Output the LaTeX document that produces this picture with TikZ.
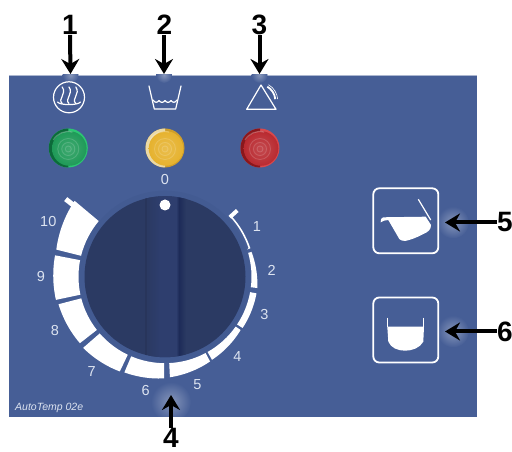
\documentclass[tikz,border=0pt]{standalone}
\usepackage{fontspec}
\setmainfont{Liberation Sans}
\usepackage{xcolor}
\usetikzlibrary{arrows.meta,positioning,calc}
\definecolor{cPanel}{HTML}{465E96}
\definecolor{cRing}{HTML}{435B92}
\definecolor{cKnob}{HTML}{2B3A63}
\definecolor{cStripe}{HTML}{2E3E6E}
\definecolor{cShadow}{HTML}{1D2B58}
\definecolor{cScale}{HTML}{DCE3F0}
\tikzset{
  num/.style={font=\fontsize{28}{28}\selectfont\bfseries,inner sep=0pt,text=black},
  callout/.style={-{Stealth[length=15pt,width=18pt,inset=5pt]},line width=4pt,color=black},
  glow/.style={inner color=white!35!cPanel,outer color=cPanel,draw=none},
  tick/.style={font=\fontsize{14.5}{15}\selectfont,text=cScale,inner sep=0pt},
  icon/.style={draw=white,line width=1.2pt,line join=round,line cap=round},
  btn/.style={draw=white,line width=1.8pt,rounded corners=6pt,fill=cPanel},
  seg/.style={fill=white,draw=none},
}
\begin{document}
\begin{tikzpicture}[x=1pt,y=1pt]
  \useasboundingbox (0,0) rectangle (512,452);
  \fill[cPanel] (9,35) rectangle (477,377);
  \draw[white!55!cPanel,line width=0.7pt] (9,377) -- (477,377);
  % glow behind the arrow tips
  \begin{scope}
    \clip (9,35) rectangle (477,377);
    \shade[glow] (70.5,377) circle (8);
    \shade[glow] (164,377) circle (8);
    \shade[glow] (259.5,377) circle (8);
    \shade[glow] (171,50) circle (20);
    \shade[glow] (453,229.5) circle (16);
    \shade[glow] (453,120.5) circle (16);
  \end{scope}
  % dial
  \coordinate (dial) at (165,175.3);
  \fill[cRing] (dial) circle (86);
  \begin{scope}
    \clip (dial) circle (80.5);
    \fill[cKnob] (84,90) rectangle (246,260);
    \shade[left color=cKnob,right color=cStripe] (148,90) rectangle (160,260);
    \fill[cStripe] (160,90) rectangle (176,260);
    \fill[cKnob!92!black] (144.5,90) rectangle (147,260);
    \shade[left color=cStripe,right color=cShadow] (176,90) rectangle (179,260);
    \shade[left color=cShadow,right color=cKnob] (179,90) rectangle (186,260);
  \end{scope}
  \fill[white] (165,247) circle (5.5);
  % scale segments: start angle / end angle / outer radius at both ends
  \foreach \aa/\ab/\ra/\rb in {140/166/118/112,169/192/112/111.5,194.5/218/110/108,221/244.5/108.5/105,
    247/269.5/104/101.7,272.8/298/100.7/96,299.5/324.8/95.5/92.5,326.5/349.7/93/93,353/376/93/90}{
    \fill[seg,shift={(dial)}] plot[domain=\aa:\ab,samples=14] (\x:{\ra+(\rb-\ra)*(\x-\aa)/(\ab-\aa)})
      -- (\ab:86.5) arc[start angle=\ab,end angle=\aa,radius=86.5] -- cycle;
  }
  % thin start of the scale at 1
  \fill[seg,shift={(dial)}] (18.4:86.5) -- (18.4:90) arc[start angle=18.4,end angle=42.5,radius=90]
    -- (42.5:88.5) arc[start angle=42.5,end angle=18.4,radius=86.5] -- cycle;
  \draw[white,line width=4pt] ($(dial)+(42.5:88)$) -- ($(dial)+(42.5:98)$);
  \draw[white,line width=5pt] ($(dial)+(142:112)$) -- ($(dial)+(142:126)$);
  % scale numbers
  \node[tick] (s0) at (165,272) {0};
  \node[tick] (s1) at (257,225.3) {1};
  \node[tick] (s2) at (271.7,182) {2};
  \node[tick] (s3) at (264.3,137) {3};
  \node[tick] (s4) at (237.3,95.3) {4};
  \node[tick] (s5) at (197.3,67.7) {5};
  \node[tick] (s6) at (145.7,61.3) {6};
  \node[tick] (s7) at (91.7,80.3) {7};
  \node[tick] (s8) at (55,121) {8};
  \node[tick] (s9) at (41,175.3) {9};
  \node[tick] (s10) at (48.3,230.3) {10};
  \node[font=\fontsize{10.5}{11}\selectfont\itshape,text=cScale,inner sep=0pt,anchor=west] (name) at (15,44) {AutoTemp 02e};
  % lamps: x / face / left edge / right rim
  \foreach \lx/\lc/\ld/\le in {68.3/1F9A58/0C6A3A/2CC672,165/E6B22E/EAD9A6/CF9E2A,260/B92A30/8A171C/D8484C}{
    \definecolor{cLamp}{HTML}{\lc}
    \definecolor{cLampL}{HTML}{\ld}
    \definecolor{cLampR}{HTML}{\le}
    \fill[cLampR] (\lx,304) circle (19.5);
    \fill[cLampL] (\lx,323.5) arc[start angle=90,end angle=270,radius=19.5] -- cycle;
    \shade[inner color=cLamp!85!white,outer color=cLamp] (\lx+1,303.5) circle (17.3);
    \foreach \rr in {3,6.5,10.5}{
      \draw[white,opacity=0.16,line width=0.9pt] (\lx,303) circle (\rr);
    }
    \draw[white,opacity=0.25,line width=1.2pt] (\lx-15,312) arc[start angle=150,end angle=75,radius=17];
  }
  % symbols above the lamps
  \draw[icon] (69,354.7) circle (15.5);
  \foreach \wx in {-6.8,0,6.8}{
    \draw[icon] (69+\wx,348.5) .. controls (69+\wx-5,353) and (69+\wx+5,358) .. (69+\wx,365);
  }
  \draw[icon] (57.5,350) .. controls (60,346.5) and (78,346.5) .. (80.5,350);
  \draw[icon] (149,366) -- (154.3,343) -- (175.7,343) -- (181,366);
  \draw[icon] (153,352) .. controls (155,349) and (157,349) .. (159,351.5) .. controls (161,349) and (163,349) .. (165,351.5)
    .. controls (167,349) and (169,349) .. (171,351.5) .. controls (173,349) and (175,349) .. (177,352);
  \draw[icon] (261,367) -- (246.7,342.7) -- (276,342.7) -- cycle;
  \draw[white,line width=1.8pt] (267.3,365.3) arc[start angle=60,end angle=5,radius=16];
  \draw[white,line width=0.6pt] (268.5,367.3) arc[start angle=60,end angle=5,radius=18.5];
  % buttons
  \node[btn,minimum width=65pt,minimum height=65pt,inner sep=0pt] (pour) at (405.8,231.2) {};
  \node[btn,minimum width=65pt,minimum height=65pt,inner sep=0pt] (pot) at (405.8,122) {};
  \fill[white] (380.7,229.7) .. controls (380.5,233) and (382,234.7) .. (383.3,234.7) -- (425.7,235.3) -- (431,227)
    .. controls (431,222) and (428,220) .. (423.3,218) .. controls (416,214) and (410,212) .. (405,211)
    .. controls (402,211) and (400,212) .. (399.3,213) -- (388.3,232) .. controls (385,232) and (383,231) .. (380.7,229.7) -- cycle;
  \draw[white,line width=1.2pt] (418.3,252.7) -- (430.7,232);
  \fill[white] (387.3,125.3) -- (424,125.3) -- (423.3,110.3) .. controls (420,104) and (412,101.3) .. (405,101.3)
    .. controls (398,101.3) and (391,104) .. (388.3,110.3) -- cycle;
  \draw[white,line width=1.2pt] (387.6,134.3) -- (387.6,125);
  \draw[white,line width=1.2pt] (423.8,134.3) -- (423.8,125);
  % numbered arrows
  \node[num] (n1) at (70,427) {1};
  \node[num] (n2) at (164.5,427) {2};
  \node[num] (n3) at (259.5,427) {3};
  \node[num] (n4) at (171,14) {4};
  \node[num] (n5) at (505,229.5) {5};
  \node[num] (n6) at (505,120.5) {6};
  \coordinate (t1) at (70.5,378);
  \coordinate (t2) at (164,378);
  \coordinate (t3) at (259.5,378);
  \coordinate (t4) at (171,57);
  \coordinate (t5) at (445,229.5);
  \coordinate (t6) at (445,120.5);
  \draw[callout] (n1.south) -- (t1);
  \draw[callout] (n2.south -| t2) -- (t2);
  \draw[callout] (n3.south) -- (t3);
  \draw[callout] (n4.north) -- (t4);
  \draw[callout] (n5.west) -- (t5);
  \draw[callout] (n6.west) -- (t6);
\end{tikzpicture}
\end{document}
